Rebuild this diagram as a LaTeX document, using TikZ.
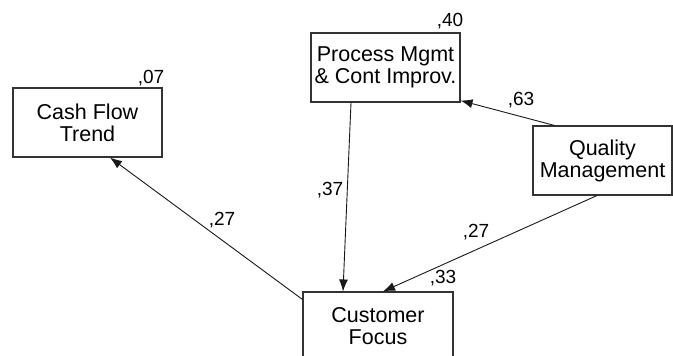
\documentclass[tikz,border=0pt]{standalone}
\usepackage{fontspec}
\setmainfont{Liberation Sans}
\usetikzlibrary{arrows.meta}
\begin{document}
\begin{tikzpicture}[x=1pt,y=-1pt,
  varbox/.style={draw=black!80, line width=1.1pt, fill=white, inner sep=0pt,
    minimum height=69pt, align=center, font=\fontsize{21.5}{22}\selectfont},
  coef/.style={inner sep=0pt, font=\fontsize{19}{19}\selectfont},
  path/.style={draw=black!90, line width=0.9pt, -{Latex[length=12pt,width=9pt]}}]
\useasboundingbox (0,0) rectangle (673,356);
\fill[white] (0,0) rectangle (673,356);
\node[varbox, minimum width=149pt] (cash) at (87.5,122.5) {Cash Flow\\Trend};
\node[varbox, minimum width=149pt] (proc) at (385.5,67.5) {Process Mgmt\\\& Cont Improv.};
\node[varbox, minimum width=139pt] (qual) at (602.5,160.5) {Quality\\Management};
\node[varbox, minimum width=150pt] (cust) at (378,326.5) {Customer\\Focus};
\draw[path] ([xshift=-34.5pt]proc.south) -- ([xshift=-35pt]cust.north);
\draw[path] ([xshift=-5.5pt]qual.south) -- ([xshift=5pt]cust.north);
\draw[path] ([yshift=-8pt]cust.north west) -- ([xshift=22.5pt]cash.south);
\draw[path] ([xshift=22pt]qual.north west) -- ([yshift=2pt]proc.south east);
\node[coef] (rcash) at (151,78) {,07};
\node[coef] (rproc) at (450,21) {,40};
\node[coef] (rcust) at (443,278) {,33};
\node[coef] (bpc) at (330,190) {,37};
\node[coef] (bqc) at (476,232) {,27};
\node[coef] (bcc) at (222,220) {,27};
\node[coef] (bqp) at (521,100) {,63};
\end{tikzpicture}
\end{document}
